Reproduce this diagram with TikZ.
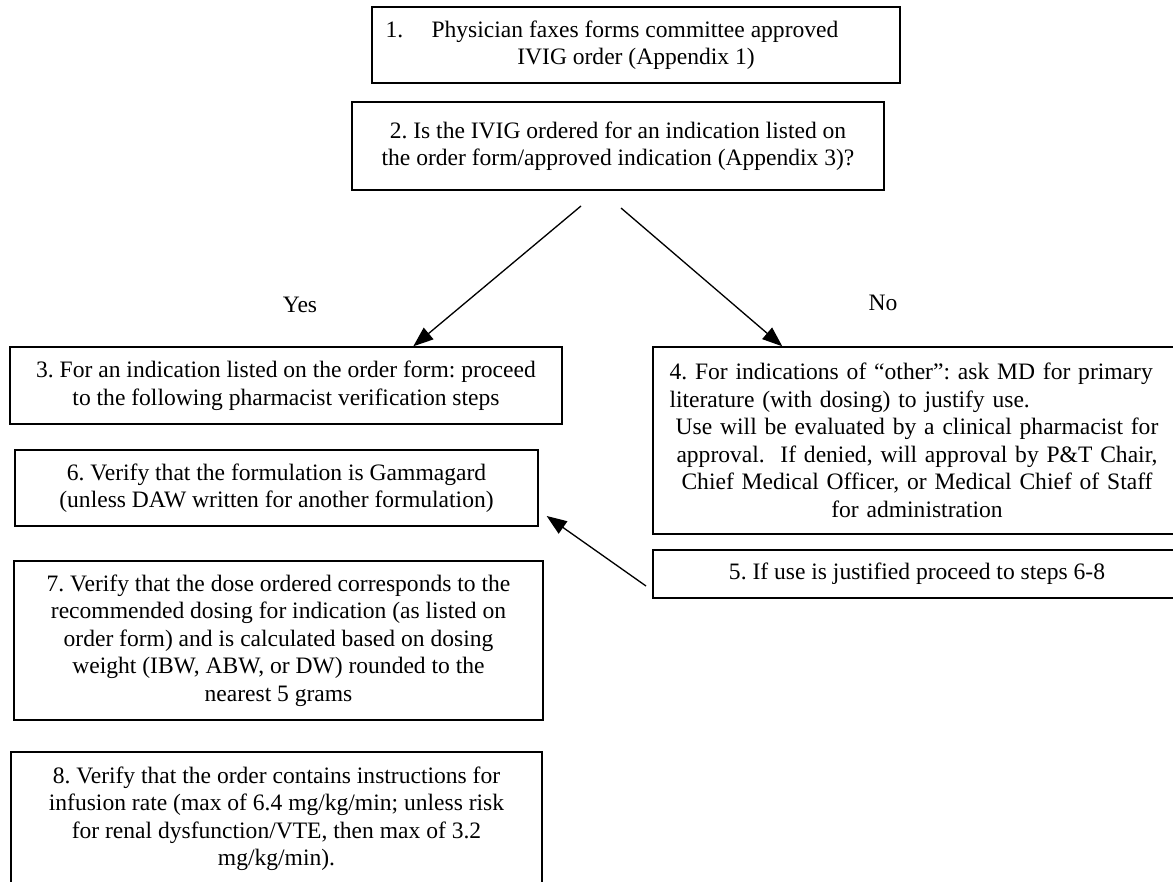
\documentclass[tikz,border=0pt]{standalone}
\usepackage{fontspec}
\setmainfont{Liberation Serif}
\usetikzlibrary{positioning, arrows.meta, calc}

\begin{document}
\frenchspacing
\begin{tikzpicture}[font=\fontsize{13.4pt}{15.65pt}\selectfont,
      langkah/.style={draw, line width=0.8pt, align=center, inner sep=0pt, font=\fontsize{13.4pt}{15.65pt}\selectfont},
      label/.style={font=\fontsize{13.4pt}{15.65pt}\selectfont},
      panah/.style={-{Triangle[length=0.40cm, width=0.30cm]}, line width=0.75pt}]

      \useasboundingbox (0,0) rectangle (23.46,-17.64);

      % atas: order masuk dan pertanyaan indikasi
      \node[langkah, minimum width=10.56cm, minimum height=1.52cm] (s1) at (12.72,-0.90)
        {1.\hspace{1.2em}Physician faxes forms committee approved\hspace*{0.96cm}\\ IVIG order (Appendix 1)};
      \node[langkah, minimum width=10.64cm, minimum height=1.76cm] (s2) at (12.36,-2.92)
        {2. Is the IVIG ordered for an indication listed on\\ the order form/approved indication (Appendix 3)?};

      % cabang yes / no
      \coordinate (ya) at (11.62,-4.12);
      \coordinate (tidak) at (12.42,-4.16);
      \node[label] (lya) at (6.00,-6.10) {Yes};
      \node[label] (ltidak) at (17.66,-6.06) {No};

      % kiri: langkah verifikasi
      \node[langkah, minimum width=11.04cm, minimum height=1.54cm] (s3) at (5.72,-7.71)
        {3. For an indication listed on the order form: proceed\\ to the following pharmacist verification steps};
      \node[langkah, minimum width=10.46cm, minimum height=1.52cm] (s6) at (5.53,-9.76)
        {6. Verify that the formulation is Gammagard\\ (unless DAW written for another formulation)};
      \node[langkah, minimum width=10.58cm, minimum height=3.18cm] (s7) at (5.57,-12.81)
        {7. Verify that the dose ordered corresponds to the\\ recommended dosing for indication (as listed on\\ order form) and is calculated based on dosing\\ weight (IBW, ABW, or DW) rounded to the\\ nearest 5 grams};
      \node[langkah, minimum width=10.62cm, minimum height=2.66cm] (s8) at (5.53,-16.37)
        {8. Verify that the order contains instructions for\\ infusion rate (max of 6.4 mg/kg/min; unless risk\\ for renal dysfunction/VTE, then max of 3.2\\ mg/kg/min).};

      % kanan: indikasi lain
      \node[draw, line width=0.8pt, inner sep=0pt, text width=9.9cm, minimum width=10.56cm, minimum height=3.74cm] (s4) at (18.34,-8.81)
        {\raggedright 4. For indications of ``other'': ask MD for primary\\ literature (with dosing) to justify use.\par
         {\centering Use will be evaluated by a clinical pharmacist for\\ approval.\ \ If denied, will approval by P\&T Chair,\\ Chief Medical Officer, or Medical Chief of Staff\\ for administration\par}};
      \node[langkah, minimum width=10.56cm, minimum height=0.96cm] (s5) at (18.34,-11.48)
        {5. If use is justified proceed to steps 6-8};
      \coordinate (dari5) at (12.92,-11.72);

      \draw[panah] (ya) -- ($(s3.north west)+(8.08,0)$);
      \draw[panah] (tidak) -- ($(s4.north west)+(2.60,0)$);
      \draw[panah] (dari5) -- ($(s6.east)+(0.16,-0.56)$);
    \end{tikzpicture}
\end{document}
